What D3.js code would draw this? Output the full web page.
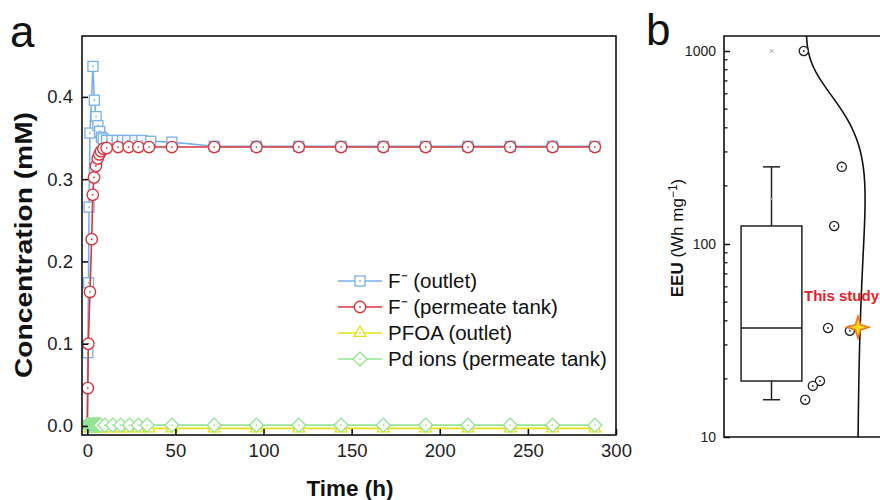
<!DOCTYPE html>
<html>
<head>
<meta charset="utf-8">
<script src="https://cdn.jsdelivr.net/npm/d3@7"></script>
<style>
  body { margin: 0; background: #ffffff; }
  svg { font-family: Arial, "Liberation Sans", sans-serif; }
</style>
</head>
<body>
<div id="plot"></div>
<script>
var width = 880;
var height = 500;

// ---- panel a data (time in h, concentration in mM) ----
var timeOutlet = [0, 0.3, 0.7, 1, 1.5, 3.2, 4, 5, 6, 7, 8, 9, 11, 14, 17, 20, 23, 27, 31, 36, 48,
                  72, 96, 120, 144, 168, 192, 216, 240, 264, 288];
var fOutlet = [0, 0.089, 0.174, 0.266, 0.356, 0.437, 0.396, 0.376, 0.365, 0.358, 0.351, 0.349, 0.347, 0.347, 0.347, 0.347, 0.347, 0.347, 0.347, 0.346, 0.345,
               0.340, 0.340, 0.340, 0.340, 0.340, 0.340, 0.340, 0.340, 0.340, 0.340];

var timePermeate = [0, 0.3, 0.6, 1.5, 2.5, 3.1, 3.8, 4.9, 5.9, 6.8, 7.8, 9.1, 11, 17.5, 23.5, 29, 35, 48,
                    72, 96, 120, 144, 168, 192, 216, 240, 264, 288];
var fPermeate = [0, 0.046, 0.100, 0.163, 0.227, 0.281, 0.302, 0.316, 0.325, 0.330, 0.334, 0.337, 0.338, 0.339, 0.339, 0.339, 0.339, 0.339,
                 0.339, 0.339, 0.339, 0.339, 0.339, 0.339, 0.339, 0.339, 0.339, 0.339];

var timePfoa = [0, 2, 4, 6, 9, 14, 19, 24, 29, 35, 48, 72, 96, 120, 144, 168, 192, 216, 240, 264, 288];
var pfoaOutlet = [-0.003, -0.003, -0.003, -0.003, -0.003, -0.003, -0.003, -0.003, -0.003, -0.003, -0.003,
                  -0.003, -0.003, -0.003, -0.003, -0.003, -0.003, -0.003, -0.003, -0.003, -0.003];

var timePd = [0, 0.25, 0.5, 0.75, 1, 1.25, 1.5, 1.75, 2, 2.25, 2.5, 2.75, 3, 3.25, 3.5, 3.75, 4,
              4.25, 4.5, 4.75, 5, 5.25, 5.5, 5.75, 6, 6.25, 6.5, 6.75, 7, 7.25, 7.5,
              10, 14.5, 19, 24, 29, 34, 48,
              72, 96, 120, 144, 168, 192, 216, 240, 264, 288];
var pdIons = [0.001, 0.001, 0.001, 0.001, 0.001, 0.001, 0.001, 0.001, 0.001, 0.001, 0.001, 0.001, 0.001, 0.001, 0.001, 0.001, 0.001,
              0.001, 0.001, 0.001, 0.001, 0.001, 0.001, 0.001, 0.001, 0.001, 0.001, 0.001, 0.001, 0.001, 0.001,
              0.001, 0.001, 0.001, 0.001, 0.001, 0.001, 0.001,
              0.001, 0.001, 0.001, 0.001, 0.001, 0.001, 0.001, 0.001, 0.001, 0.001];

var xTicksA = [0, 50, 100, 150, 200, 250, 300];
var yTicksA = [0, 0.1, 0.2, 0.3, 0.4];
var legendLabels = ['F\u207B (outlet)', 'F\u207B (permeate tank)', 'PFOA (outlet)', 'Pd ions (permeate tank)'];

// ---- panel b data (EEU, Wh mg-1) ----
var eeuValues = [1000, 251, 124, 36.7, 35.5, 19.5, 18.4, 15.6];
var eeuPos = [1.68, 2.48, 2.32, 2.19, 2.65, 2.02, 1.87, 1.71];
var thisStudyValue = 37;
var thisStudyPos = 2.82;
var boxStats = [15.6, 19.5, 36.7, 124, 251];   // whisker low, q1, median, q3, whisker high
var boxMean = 171;
var boxOutlier = 1000;
var yTicksB = [10, 100, 1000];

var canvas = d3.select('#plot')
    .append('svg')
    .attr('width', width)
    .attr('height', height);

canvas.append('rect').attr('width', width).attr('height', height).attr('fill', '#ffffff');

// ================= panel a =================
var x = d3.scaleLinear().domain([-3, 300]).range([82, 616]);
var y = d3.scaleLinear().domain([-0.011, 0.474]).range([435, 36]);

canvas.append('clipPath').attr('id', 'clipA')
    .append('rect')
    .attr('x', x.range()[0]).attr('y', y.range()[1])
    .attr('width', x.range()[1] - x.range()[0])
    .attr('height', y.range()[0] - y.range()[1]);

var series = [
    {t: timeOutlet, v: fOutlet, color: '#78b1e8', shape: 'square'},
    {t: timePermeate, v: fPermeate, color: '#d8363e', shape: 'circle'},
    {t: timePfoa, v: pfoaOutlet, color: '#e6e21a', shape: 'triangle'},
    {t: timePd, v: pdIons, color: '#96e496', shape: 'diamond'}
];

function drawMarker(g, shape, color) {
    if (shape === 'square') {
        g.append('rect').attr('x', -5).attr('y', -5).attr('width', 10).attr('height', 10)
            .attr('fill', '#ffffff').attr('stroke', color).attr('stroke-width', 1.3);
    } else if (shape === 'circle') {
        g.append('circle').attr('r', 5.7)
            .attr('fill', '#ffffff').attr('stroke', color).attr('stroke-width', 1.4);
    } else if (shape === 'triangle') {
        g.append('path').attr('d', d3.symbol(d3.symbolTriangle, 62)())
            .attr('fill', '#ffffff').attr('stroke', color).attr('stroke-width', 1.3);
    } else {
        g.append('path').attr('d', d3.symbol(d3.symbolSquare, 98)())
            .attr('transform', 'rotate(45)')
            .attr('fill', '#ffffff').attr('stroke', color).attr('stroke-width', 1.4);
    }
    g.append('circle').attr('r', 0.9).attr('fill', color);
}

var plotA = canvas.append('g').attr('clip-path', 'url(#clipA)');

var lineGen = d3.line()
    .x(function(d) { return x(d[0]); })
    .y(function(d) { return y(d[1]); });

series.forEach(function(s) {
    var pts = s.t.map(function(t, i) { return [t, s.v[i]]; });
    var g = plotA.append('g');
    g.append('path')
        .attr('d', lineGen(pts))
        .attr('fill', 'none')
        .attr('stroke', s.color)
        .attr('stroke-width', 1.6);
    g.selectAll('g.pt')
        .data(pts)
        .enter()
        .append('g')
        .attr('class', 'pt')
        .attr('transform', function(d) { return 'translate(' + x(d[0]) + ',' + y(d[1]) + ')'; })
        .each(function() { drawMarker(d3.select(this), s.shape, s.color); });
});

// frame
canvas.append('rect')
    .attr('x', x.range()[0]).attr('y', y.range()[1])
    .attr('width', x.range()[1] - x.range()[0])
    .attr('height', y.range()[0] - y.range()[1])
    .attr('fill', 'none').attr('stroke', '#111').attr('stroke-width', 1.6);

var xAxisA = canvas.append('g')
    .attr('transform', 'translate(0,' + y.range()[0] + ')')
    .call(d3.axisBottom(x).tickValues(xTicksA).tickSizeInner(-6).tickSizeOuter(0).tickPadding(9));
var yAxisA = canvas.append('g')
    .attr('transform', 'translate(' + x.range()[0] + ',0)')
    .call(d3.axisLeft(y).tickValues(yTicksA).tickFormat(d3.format('.1f')).tickSizeInner(-6).tickSizeOuter(0).tickPadding(9));

[xAxisA, yAxisA].forEach(function(a) {
    a.select('.domain').remove();
    a.selectAll('line').attr('stroke', '#111').attr('stroke-width', 1.6);
    a.selectAll('text').attr('font-size', 18.5).attr('fill', '#222')
        .attr('font-family', 'Arial, "Liberation Sans", sans-serif');
});

canvas.append('text')
    .attr('x', 350).attr('y', 496)
    .attr('text-anchor', 'middle')
    .attr('font-size', 22.5).attr('font-weight', 'bold').attr('fill', '#111')
    .text('Time (h)');

canvas.append('text')
    .attr('transform', 'translate(32,245) rotate(-90)')
    .attr('text-anchor', 'middle')
    .attr('font-size', 24).attr('font-weight', 'bold').attr('fill', '#111')
    .attr('textLength', 266).attr('lengthAdjust', 'spacingAndGlyphs')
    .text('Concentration (mM)');

canvas.append('text')
    .attr('x', 10).attr('y', 47)
    .attr('font-size', 44).attr('fill', '#111')
    .text('a');

// legend
var legend = canvas.selectAll('g.legend')
    .data(series)
    .enter()
    .append('g')
    .attr('class', 'legend')
    .attr('transform', function(d, i) { return 'translate(0,' + (281 + i * 26) + ')'; });
legend.append('line')
    .attr('x1', 338).attr('x2', 382)
    .attr('stroke', function(d) { return d.color; })
    .attr('stroke-width', 1.6);
legend.append('g')
    .attr('transform', 'translate(360,0)')
    .each(function(d) { drawMarker(d3.select(this), d.shape, d.color); });
legend.append('text')
    .attr('x', 388).attr('y', 7)
    .attr('font-size', 20.5).attr('fill', '#111')
    .text(function(d, i) { return legendLabels[i]; });

// ================= panel b =================
var xb = d3.scaleLinear().domain([0, 4]).range([724, 914]);
var yb = d3.scaleLog().domain([10, 1196]).range([437, 36]);

// frame lines
canvas.append('path')
    .attr('d', d3.line()([[xb.range()[1], yb.range()[1]], [xb.range()[0], yb.range()[1]],
                         [xb.range()[0], yb.range()[0]], [xb.range()[1], yb.range()[0]]]))
    .attr('fill', 'none').attr('stroke', '#111').attr('stroke-width', 1.6);

var minorB = [];
[10, 100].forEach(function(dec) {
    for (var k = 2; k <= 9; k++) { minorB.push(dec * k); }
});
canvas.selectAll('line.minorb')
    .data(minorB)
    .enter()
    .append('line')
    .attr('class', 'minorb')
    .attr('x1', xb.range()[0]).attr('x2', xb.range()[0] + 3.5)
    .attr('y1', function(d) { return yb(d); }).attr('y2', function(d) { return yb(d); })
    .attr('stroke', '#111').attr('stroke-width', 1.3);

var yAxisB = canvas.append('g')
    .attr('transform', 'translate(' + xb.range()[0] + ',0)')
    .call(d3.axisLeft(yb).tickValues(yTicksB).tickFormat(d3.format('d')).tickSizeInner(-6).tickSizeOuter(0).tickPadding(8));
yAxisB.select('.domain').remove();
yAxisB.selectAll('line').attr('stroke', '#111').attr('stroke-width', 1.5);
yAxisB.selectAll('text').attr('font-size', 14).attr('fill', '#222')
    .attr('font-family', 'Arial, "Liberation Sans", sans-serif');

var ebLabel = canvas.append('text')
    .attr('transform', 'translate(683,238) rotate(-90)')
    .attr('text-anchor', 'middle')
    .attr('font-size', 17).attr('fill', '#111');
ebLabel.append('tspan').attr('font-weight', 'bold').text('EEU');
ebLabel.append('tspan').text(' (Wh mg');
ebLabel.append('tspan').attr('font-size', 12).attr('dy', -6).text('\u22121');
ebLabel.append('tspan').attr('dy', 6).text(')');

canvas.append('text')
    .attr('x', 646).attr('y', 45)
    .attr('font-size', 44).attr('fill', '#111')
    .text('b');

// box
var boxHalf = 0.64;
var capHalf = 0.18;
var boxG = canvas.append('g').attr('stroke', '#222').attr('stroke-width', 1.5).attr('fill', 'none');
boxG.append('rect')
    .attr('x', xb(1 - boxHalf)).attr('y', yb(boxStats[3]))
    .attr('width', xb(1 + boxHalf) - xb(1 - boxHalf))
    .attr('height', yb(boxStats[1]) - yb(boxStats[3]));
boxG.append('line')
    .attr('x1', xb(1 - boxHalf)).attr('x2', xb(1 + boxHalf))
    .attr('y1', yb(boxStats[2])).attr('y2', yb(boxStats[2]));
boxG.append('line')
    .attr('x1', xb(1)).attr('x2', xb(1))
    .attr('y1', yb(boxStats[3])).attr('y2', yb(boxStats[4]));
boxG.append('line')
    .attr('x1', xb(1)).attr('x2', xb(1))
    .attr('y1', yb(boxStats[1])).attr('y2', yb(boxStats[0]));
[boxStats[0], boxStats[4]].forEach(function(v) {
    boxG.append('line')
        .attr('x1', xb(1 - capHalf)).attr('x2', xb(1 + capHalf))
        .attr('y1', yb(v)).attr('y2', yb(v));
});
canvas.append('circle')
    .attr('cx', xb(1)).attr('cy', yb(boxMean)).attr('r', 1.3).attr('fill', '#aaa');
canvas.append('path')
    .attr('d', d3.symbol(d3.symbolX, 10)())
    .attr('transform', 'translate(' + xb(1) + ',' + yb(boxOutlier) + ')')
    .attr('stroke', '#999').attr('stroke-width', 1).attr('fill', 'none');

// fitted normal curve
var allValues = eeuValues.concat([thisStudyValue]);
var mu = d3.mean(allValues);
var sigma = d3.deviation(allValues);
var curveBase = 1.73;
var curveWidth = 1.24;
var curveVals = d3.range(0, 201).map(function(i) {
    return Math.pow(10, 1 + i * (Math.log10(1196) - 1) / 200);
});
canvas.append('path')
    .attr('d', d3.line()
        .x(function(v) { return xb(curveBase + curveWidth * Math.exp(-Math.pow(v - mu, 2) / (2 * sigma * sigma))); })
        .y(function(v) { return yb(v); })(curveVals))
    .attr('fill', 'none').attr('stroke', '#111').attr('stroke-width', 1.6);

// data points
var ptsB = canvas.selectAll('g.eeu')
    .data(eeuValues)
    .enter()
    .append('g')
    .attr('class', 'eeu')
    .attr('transform', function(d, i) { return 'translate(' + xb(eeuPos[i]) + ',' + yb(d) + ')'; });
ptsB.append('circle').attr('r', 4.6).attr('fill', '#fff').attr('stroke', '#222').attr('stroke-width', 1.3);
ptsB.append('circle').attr('r', 0.9).attr('fill', '#222');

// this study star
var starPts = d3.range(8).map(function(i) {
    return [i * Math.PI / 4, i % 2 === 0 ? 11 : 3.6];
});
canvas.append('path')
    .attr('d', d3.lineRadial().curve(d3.curveLinearClosed)(starPts))
    .attr('transform', 'translate(' + xb(thisStudyPos) + ',' + yb(thisStudyValue) + ')')
    .attr('fill', '#ffdc1e').attr('stroke', '#f0781e').attr('stroke-width', 1.6);

canvas.append('text')
    .attr('x', 804).attr('y', 301)
    .attr('font-size', 15).attr('font-weight', 'bold').attr('fill', '#e5222a')
    .text('This study');
</script>
</body>
</html>
